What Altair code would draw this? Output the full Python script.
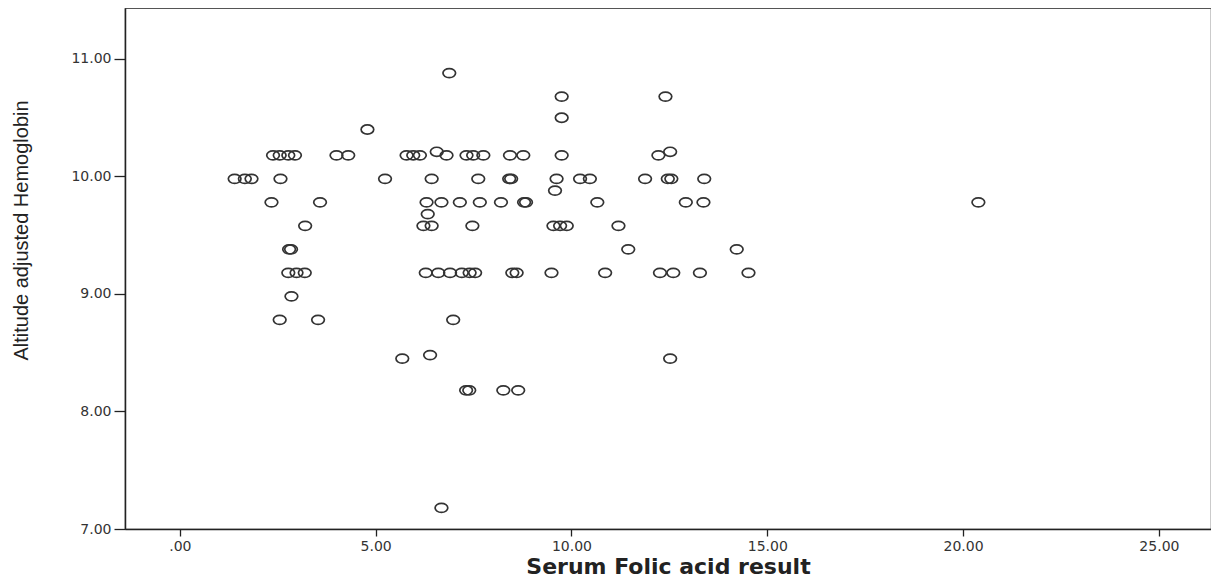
import altair as alt
import pandas as pd

folic = [
    6.88,
    9.75, 12.40,
    9.75,
    4.79,
    2.38, 2.55, 2.77, 2.94, 4.00, 4.30, 5.79, 5.96, 6.13, 6.56, 6.81, 7.32, 7.49, 7.75, 8.43, 8.77, 9.75, 12.22, 12.52,
    1.40, 1.66, 1.83, 2.57, 5.24, 6.43, 7.62, 8.41, 8.46, 9.62, 10.22, 10.47, 11.88, 12.46, 12.55, 13.39,
    9.58,
    2.34, 3.58, 6.30, 6.68, 7.15, 7.66, 8.20, 8.79, 8.84, 10.66, 12.92, 13.37, 20.39,
    6.33,
    3.20, 6.22, 6.43, 7.47, 9.54, 9.71, 9.88, 11.20,
    2.79, 2.84, 11.45, 14.22,
    2.77, 2.98, 3.19, 6.28, 6.60, 6.90, 7.20, 7.40, 7.54, 8.49, 8.60, 9.49, 10.86, 12.26, 12.60, 13.28, 14.52,
    2.85,
    2.55, 3.53, 6.98,
    5.68, 6.39, 12.52,
    7.31, 7.39, 8.26, 8.64,
    6.68,
]

hemoglobin = (
    [10.88]
    + [10.68, 10.68]
    + [10.50]
    + [10.40]
    + [10.18] * 9 + [10.21] + [10.18] * 8 + [10.21]
    + [9.98] * 16
    + [9.88]
    + [9.78] * 13
    + [9.68]
    + [9.58] * 8
    + [9.38] * 4
    + [9.18] * 17
    + [8.98]
    + [8.78] * 3
    + [8.45, 8.48, 8.45]
    + [8.18] * 4
    + [7.18]
)

x_ticks = [0, 5, 10, 15, 20, 25]
y_ticks = [7, 8, 9, 10, 11]

df = pd.DataFrame({"folic": folic, "hb": hemoglobin})

ellipse = "M-1,0A1,0.72,0,1,1,1,0A1,0.72,0,1,1,-1,0Z"

chart = (
    alt.Chart(df)
    .mark_point(shape=ellipse, size=160, filled=False, stroke="#333333", strokeWidth=1.7, opacity=1)
    .encode(
        x=alt.X(
            "folic:Q",
            scale=alt.Scale(domain=[-1.40, 26.33], nice=False, zero=False),
            axis=alt.Axis(
                title="Serum Folic acid result",
                values=x_ticks,
                labelExpr="datum.value == 0 ? '.00' : format(datum.value, '.2f')",
                grid=False,
                domainColor="#222222",
                domainWidth=1.5,
                tickColor="#222222",
                tickSize=7,
                tickWidth=1.3,
                labelFont="DejaVu Sans",
                labelFontSize=14,
                labelColor="#333333",
                labelPadding=3,
                titleFont="DejaVu Sans",
                titleFontSize=22,
                titleFontWeight="bold",
                titleColor="#222222",
                titlePadding=3,
            ),
        ),
        y=alt.Y(
            "hb:Q",
            scale=alt.Scale(domain=[7.0, 11.434], nice=False, zero=False),
            axis=alt.Axis(
                title="Altitude adjusted Hemoglobin",
                values=y_ticks,
                format=".2f",
                grid=False,
                domainColor="#222222",
                domainWidth=1.5,
                tickColor="#222222",
                tickSize=11,
                tickWidth=1.3,
                labelFont="DejaVu Sans",
                labelFontSize=14,
                labelColor="#333333",
                labelPadding=3,
                titleFont="Liberation Sans",
                titleFontSize=20,
                titleFontWeight="normal",
                titleColor="#222222",
                titleAngle=-90,
                titleX=-104,
                titleY=222,
                titleAlign="center",
                titleBaseline="middle",
            ),
        ),
    )
    .properties(
        width=1086,
        height=521,
        autosize=alt.AutoSizeParams(type="none"),
        padding={"left": 117, "top": 0, "right": 0, "bottom": 51},
    )
    .configure_view(stroke="#555555", strokeWidth=1.2)
)

chart.save("out.html", embed_options={"renderer": "svg", "actions": False})
